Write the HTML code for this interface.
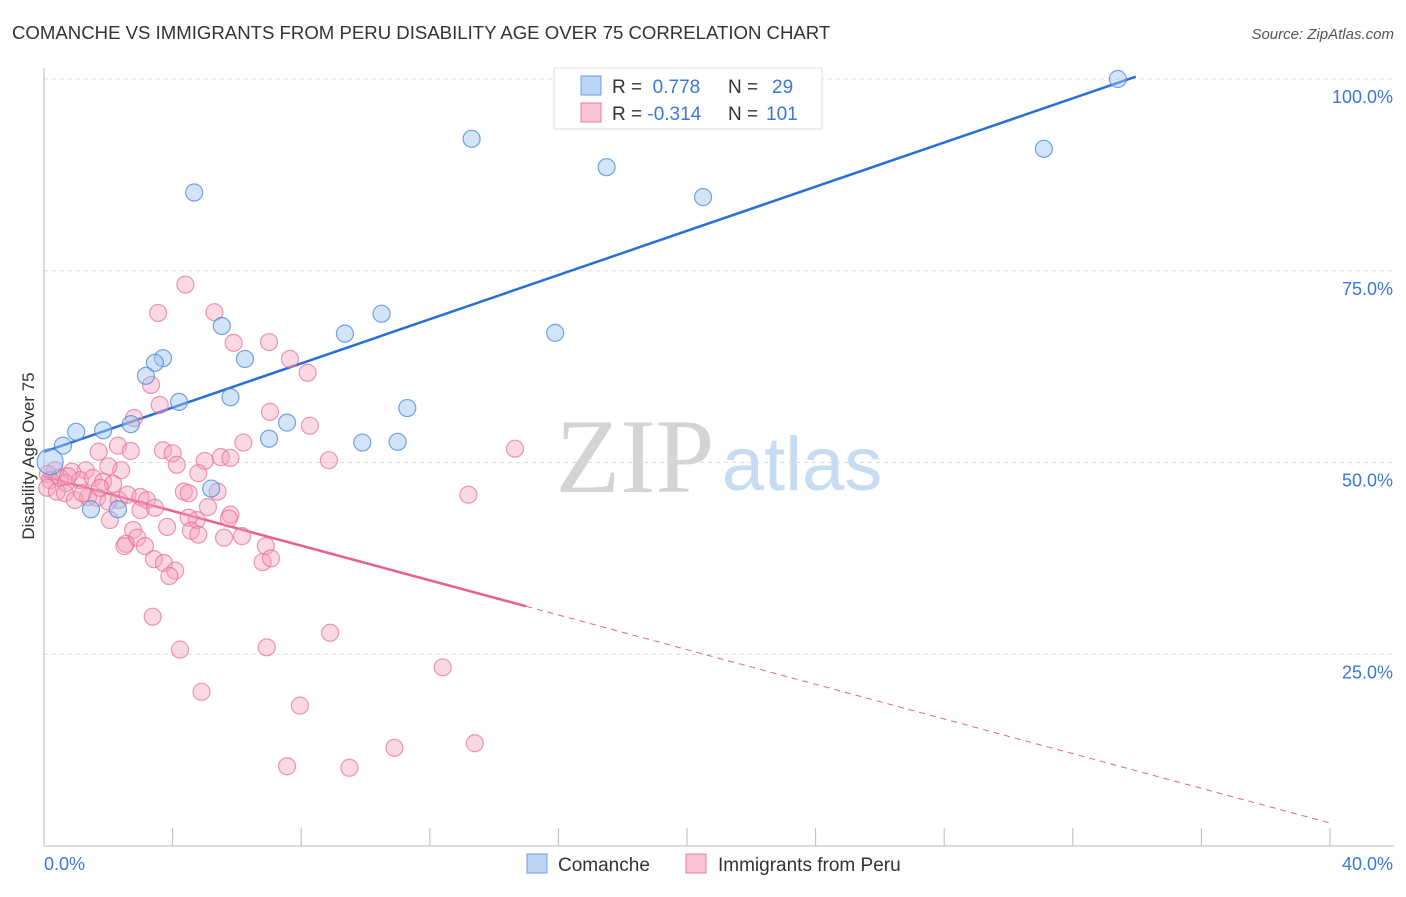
<!DOCTYPE html>
<html><head><meta charset="utf-8"><style>
body{margin:0;background:#fff;font-family:"Liberation Sans",sans-serif;}
</style></head><body>
<svg id="chart" width="1406" height="892" xmlns="http://www.w3.org/2000/svg">
<text x="12" y="39" font-size="18.6" fill="#333">COMANCHE VS IMMIGRANTS FROM PERU DISABILITY AGE OVER 75 CORRELATION CHART</text>
<text x="1394" y="39" font-size="15" fill="#555" font-style="italic" text-anchor="end">Source: ZipAtlas.com</text>
<text x="34" y="456" font-size="17" fill="#333" text-anchor="middle" transform="rotate(-90 34 456)">Disability Age Over 75</text>
<g>
<text x="635" y="492" font-family="Liberation Serif,serif" font-size="106" fill="#d4d4d4" text-anchor="middle">ZIP</text>
<text x="802" y="490" font-size="76" fill="#c6dcf2" text-anchor="middle">atlas</text>
</g>
<g id="grid"></g><g id="axes"></g><g id="lines"></g><g id="points"></g>
<g>
<rect x="554" y="68" width="268" height="61" fill="#fff" stroke="#ddd"/>
<rect x="581" y="76" width="20" height="19" fill="#bcd5f5" stroke="#6a9fe0"/>
<rect x="581" y="103" width="20" height="19" fill="#f9c5d5" stroke="#e87ca0"/>
<text x="612" y="93" font-size="19" fill="#333">R = <tspan fill="#3a78d8">&#160;0.778</tspan><tspan x="728">N = </tspan><tspan fill="#3a78d8" x="772">29</tspan></text>
<text x="612" y="120" font-size="19" fill="#333">R = <tspan fill="#3a78d8">-0.314</tspan><tspan x="728">N = </tspan><tspan fill="#3a78d8" x="766">101</tspan></text>
</g>
<g>
<rect x="527" y="854" width="20" height="19" fill="#bcd5f5" stroke="#6a9fe0"/>
<text x="558" y="871" font-size="19" fill="#333">Comanche</text>
<rect x="686" y="854" width="20" height="19" fill="#f9c5d5" stroke="#e87ca0"/>
<text x="718" y="871" font-size="19" fill="#333">Immigrants from Peru</text>
</g>
</svg>
<script>
const blueX=[33.4,13.3,4.67,17.5,20.5,31.1,5.53,6.25,3.7,3.45,3.17,4.2,5.8,9.36,10.5,15.9,11.3,7.56,7.0,9.9,11.0,2.7,1.84,1.0,0.59,0.19,5.2,1.46,2.3];
const blueY=[100,92.2,85.2,88.5,84.6,90.9,67.8,63.5,63.6,63.0,61.3,57.9,58.5,66.8,69.4,66.9,57.1,55.2,53.1,52.6,52.7,55.0,54.2,54.0,52.2,50.1,46.6,43.9,43.9];
const pinkX=[4.4,3.55,5.3,5.9,7.0,7.65,8.2,3.33,3.6,2.8,7.03,8.27,6.2,2.3,2.7,3.7,4.0,5.5,5.0,8.86,14.65,1.7,4.13,4.8,2.4,1.3,0.87,0.34,0.12,0.19,0.5,0.68,1.12,1.52,1.84,2.15,0.1,0.4,0.65,0.96,1.37,1.65,2.0,2.33,2.6,3.0,3.2,3.0,3.45,4.35,4.5,5.4,5.1,4.75,4.5,5.8,5.75,2.05,3.83,2.77,2.9,4.57,4.8,5.6,6.16,2.55,3.14,6.9,3.42,3.73,6.8,7.06,4.08,3.9,3.38,8.9,4.23,6.93,12.4,4.9,7.96,13.4,10.9,7.56,9.5,13.2,5.8,1.2,0.75,1.74,2.5,2.0];
const pinkY=[73.2,69.5,69.6,65.6,65.7,63.5,61.7,60.1,57.5,55.8,56.6,54.8,52.6,52.2,51.5,51.6,51.2,50.7,50.2,50.3,51.8,51.4,49.7,48.6,49.0,49.0,48.8,49.0,48.5,47.7,48.0,47.3,47.7,48.0,47.5,47.2,46.7,46.2,46.0,45.1,45.5,45.4,44.9,45.1,45.8,45.5,45.1,43.8,44.1,46.2,46.0,46.2,44.2,42.5,42.8,43.2,42.7,42.5,41.6,41.2,40.2,41.1,40.6,40.2,40.4,39.4,39.1,39.1,37.4,36.9,37.0,37.5,35.9,35.2,29.9,27.8,25.6,25.9,23.3,20.1,18.3,13.4,12.8,10.4,10.2,45.8,50.6,46.0,48.2,46.7,39.1,49.5];
const yTicks=[25,50,75,100];
const yTickLabels=["25.0%","50.0%","75.0%","100.0%"];
const xTicks=[0,4,8,12,16,20,24,28,32,36,40];
const blueTrend=[51.4,1.44];
const pinkTrend=[48.2,-1.13];
const pinkSolidEnd=15.0;

const NS="http://www.w3.org/2000/svg";
const X0=44,X1=1330,Y0=846,Y100=79;
const sx=v=>X0+(X1-X0)*v/40;
const sy=v=>Y0-(Y0-Y100)*v/100;
function mk(tag,attrs,parent){const e=document.createElementNS(NS,tag);for(const k in attrs)e.setAttribute(k,attrs[k]);parent.appendChild(e);return e;}
const grid=document.getElementById('grid'),axes=document.getElementById('axes'),lines=document.getElementById('lines'),pts=document.getElementById('points');
yTicks.forEach((t,i)=>{
 const l=mk('line',{x1:X0,x2:1394,y1:sy(t),y2:sy(t),stroke:'#ddd','stroke-dasharray':'4,4'},grid);
 
 
 const tx=mk('text',{x:1393,y:sy(t)+24,'font-size':18,fill:'#3a78d8','text-anchor':'end'},axes);
 tx.textContent=yTickLabels[i];
 
 
});
const ax=mk('line',{x1:X0,x2:X0,y1:68,y2:Y0,stroke:'#bbb'},axes);


const bx=mk('line',{x1:X0,x2:1394,y1:Y0,y2:Y0,stroke:'#bbb'},axes);


xTicks.forEach(t=>{
 const l=mk('line',{x1:sx(t),x2:sx(t),y1:Y0,y2:Y0-18,stroke:'#bbb'},axes);
 
 
});
const xl=mk('text',{x:44,y:870,'font-size':18,fill:'#3a78d8'},axes);xl.textContent='0.0%';


const xr=mk('text',{x:1393,y:870,'font-size':18,fill:'#3a78d8','text-anchor':'end'},axes);xr.textContent='40.0%';


function dot(x,y,r,fill,stroke,name){
 const c=mk('circle',{cx:sx(x),cy:sy(y),r:r,fill:fill,stroke:stroke,'stroke-width':1.2},pts);
 
 
}
pinkX.forEach((x,i)=>dot(x,pinkY[i],8.5,'rgba(244,160,188,0.4)','rgba(228,110,150,0.7)','peru-point'));
blueX.forEach((x,i)=>dot(x,blueY[i],i===25?13:8.5,'rgba(160,196,240,0.45)','rgba(80,140,220,0.8)','comanche-point'));
const bEnd=(100.3-blueTrend[0])/blueTrend[1];
const bl=mk('line',{x1:sx(0),y1:sy(blueTrend[0]),x2:sx(bEnd),y2:sy(blueTrend[0]+blueTrend[1]*bEnd),stroke:'#2a6fd6','stroke-width':2.5},lines);


const pl=mk('line',{x1:sx(0),y1:sy(pinkTrend[0]),x2:sx(pinkSolidEnd),y2:sy(pinkTrend[0]+pinkTrend[1]*pinkSolidEnd),stroke:'#e8608e','stroke-width':2.5},lines);


const pd=mk('line',{x1:sx(pinkSolidEnd),y1:sy(pinkTrend[0]+pinkTrend[1]*pinkSolidEnd),x2:sx(40),y2:sy(pinkTrend[0]+pinkTrend[1]*40),stroke:'#e8608e','stroke-width':1,'stroke-dasharray':'6,5'},lines);


</script>
</body></html>
